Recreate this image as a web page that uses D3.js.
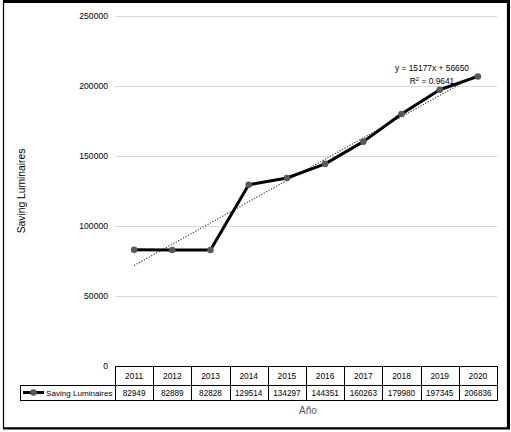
<!DOCTYPE html>
<html><head><meta charset="utf-8">
<script src="https://cdn.jsdelivr.net/npm/d3@7"></script>
<style>body{margin:0;background:#fff}svg{display:block}</style>
</head><body>
<script>
const years = ["2011","2012","2013","2014","2015","2016","2017","2018","2019","2020"];
const values = [82949,82889,82828,129514,134297,144351,160263,179980,197345,206836];
const yTicks = [0,50000,100000,150000,200000,250000];
const seriesName = "Saving Luminaires";
const trendSlope = 15177, trendIntercept = 56650, trendR2 = "0.9641";

const W = 511, H = 432;
const svg = d3.select("body").append("svg").attr("width", W).attr("height", H);
const font = "'Liberation Sans', Arial, sans-serif";

// outer frame
svg.append("rect").attr("x", 3.5).attr("y", 1.5).attr("width", 504).attr("height", 426.5)
  .attr("fill", "none").attr("stroke", "#000").attr("stroke-width", 1.2);
svg.append("line").attr("x1", 3).attr("x2", 510).attr("y1", 1.5).attr("y2", 1.5).attr("stroke", "#000").attr("stroke-width", 3);
svg.append("line").attr("x1", 508.5).attr("x2", 508.5).attr("y1", 0).attr("y2", 429).attr("stroke", "#000").attr("stroke-width", 3);
svg.append("line").attr("x1", 3).attr("x2", 510).attr("y1", 428.5).attr("y2", 428.5).attr("stroke", "#000").attr("stroke-width", 2);

const pLeft = 115, pRight = 497, pTop = 16, pBottom = 366;
const x = d3.scaleBand().domain(years).range([pLeft, pRight]);
const y = d3.scaleLinear().domain([0, 250000]).range([pBottom, pTop]);

// gridlines
svg.append("g").selectAll("line").data(yTicks.filter(d => d > 0)).join("line")
  .attr("x1", pLeft).attr("x2", pRight).attr("y1", d => y(d) + 0.5).attr("y2", d => y(d) + 0.5)
  .attr("stroke", "#d9d9d9").attr("stroke-width", 1);

// y axis labels
const yAxis = d3.axisLeft(y).tickValues(yTicks).tickSize(0).tickPadding(7).tickFormat(d3.format("d"));
const ga = svg.append("g").attr("transform", `translate(${pLeft},0)`).call(yAxis);
ga.select(".domain").remove();
ga.selectAll("text").attr("font-family", font).attr("font-size", 8.6).attr("fill", "#000");

// y title
svg.append("text").attr("transform", `translate(25,${191}) rotate(-90)`)
  .attr("text-anchor", "middle").attr("font-family", font).attr("font-size", 10.3).attr("fill", "#000")
  .text(seriesName);

// trendline
const idx = years.map((d, i) => i + 1);
const tline = d3.line().x((d, i) => x(years[i]) + x.bandwidth()/2).y(d => y(trendSlope * d + trendIntercept));
svg.append("path").attr("d", tline(idx)).attr("fill", "none").attr("stroke", "#404040")
  .attr("stroke-width", 1.2).attr("stroke-dasharray", "1.2,1.6");

// series line
const line = d3.line().x((d, i) => x(years[i]) + x.bandwidth()/2).y(d => y(d));
svg.append("path").attr("d", line(values)).attr("fill", "none").attr("stroke", "#000")
  .attr("stroke-width", 3).attr("stroke-linejoin", "round");
svg.append("g").selectAll("circle").data(values).join("circle")
  .attr("cx", (d, i) => x(years[i]) + x.bandwidth()/2).attr("cy", d => y(d)).attr("r", 3.3)
  .attr("fill", "#595959");

// trend label
const tl = svg.append("text").attr("font-family", font).attr("font-size", 8.4).attr("fill", "#000").attr("text-anchor", "middle");
tl.append("tspan").attr("x", 432).attr("y", 71).text(`y = ${trendSlope}x + ${trendIntercept}`);
const t2 = tl.append("tspan").attr("x", 432).attr("y", 84);
t2.append("tspan").text("R");
t2.append("tspan").attr("dy", -3).attr("font-size", 6).text("2");
t2.append("tspan").attr("dy", 3).text(` = ${trendR2}`);

// data table
const row1 = pBottom, row2 = pBottom + 19, row3 = pBottom + 34;
const tg = svg.append("g");
tg.append("line").attr("x1", pLeft).attr("x2", pRight).attr("y1", row1 + 0.5).attr("y2", row1 + 0.5).attr("stroke", "#000");
tg.append("line").attr("x1", 20).attr("x2", pRight).attr("y1", row2 + 0.5).attr("y2", row2 + 0.5).attr("stroke", "#000");
tg.append("line").attr("x1", 20).attr("x2", pRight).attr("y1", row3 + 0.5).attr("y2", row3 + 0.5).attr("stroke", "#000");
tg.append("line").attr("x1", 20.5).attr("x2", 20.5).attr("y1", row2).attr("y2", row3 + 1).attr("stroke", "#000");
tg.selectAll("line.v").data(years.concat(["end"])).join("line").attr("class", "v")
  .attr("x1", (d, i) => Math.round(pLeft + i * x.bandwidth()) + 0.5)
  .attr("x2", (d, i) => Math.round(pLeft + i * x.bandwidth()) + 0.5)
  .attr("y1", row1).attr("y2", row3 + 1).attr("stroke", "#000");
tg.selectAll("text.yr").data(years).join("text").attr("class", "yr")
  .attr("x", d => x(d) + x.bandwidth()/2).attr("y", row1 + 13).attr("text-anchor", "middle")
  .attr("font-family", font).attr("font-size", 8.4).attr("fill", "#000").text(d => d);
tg.selectAll("text.val").data(values).join("text").attr("class", "val")
  .attr("x", (d, i) => x(years[i]) + x.bandwidth()/2).attr("y", row2 + 11).attr("text-anchor", "middle")
  .attr("font-family", font).attr("font-size", 8.2).attr("fill", "#000").text(d => d);
// legend key
tg.append("line").attr("x1", 23).attr("x2", 44).attr("y1", row2 + 7.5).attr("y2", row2 + 7.5).attr("stroke", "#000").attr("stroke-width", 3);
tg.append("circle").attr("cx", 33.5).attr("cy", row2 + 7.5).attr("r", 3.3).attr("fill", "#595959");
tg.append("text").attr("x", 46).attr("y", row2 + 11).attr("font-family", font).attr("font-size", 8.1)
  .attr("fill", "#000").text(seriesName);

// x title
svg.append("text").attr("x", 308).attr("y", 414).attr("text-anchor", "middle").attr("font-family", font)
  .attr("font-size", 10).attr("fill", "#595959").text("Año");
</script>
</body></html>
